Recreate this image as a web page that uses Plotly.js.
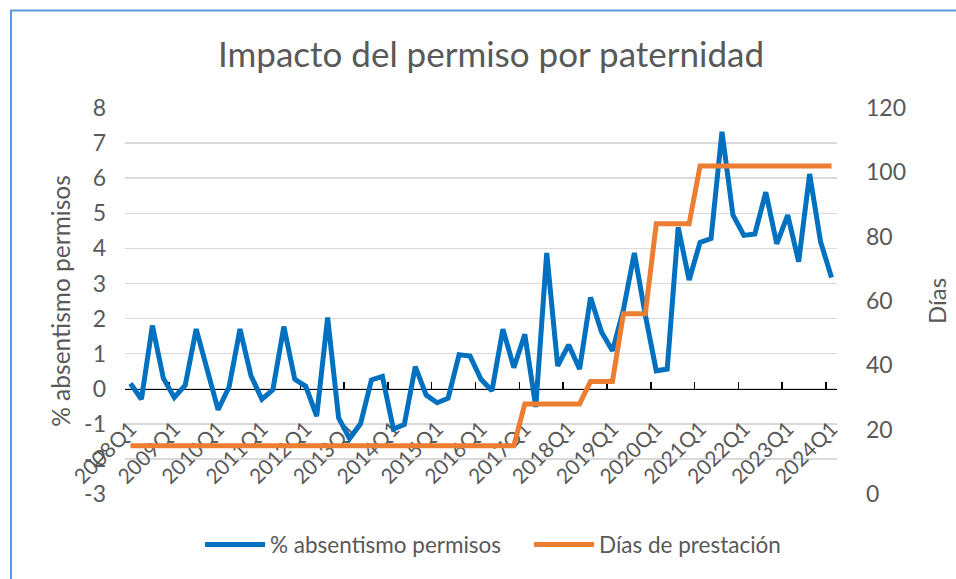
<!DOCTYPE html>
<html>
<head>
<meta charset="utf-8">
<script src="https://cdn.plot.ly/plotly-3.0.1.min.js"></script>
<style>
html,body{margin:0;padding:0;background:#ffffff;}
#chart{width:956px;height:579px;}
</style>
</head>
<body>
<div id="chart"></div>
<script>
// ---- data ----
const quarters = [
  "2008Q1","2008Q2","2008Q3","2008Q4",
  "2009Q1","2009Q2","2009Q3","2009Q4",
  "2010Q1","2010Q2","2010Q3","2010Q4",
  "2011Q1","2011Q2","2011Q3","2011Q4",
  "2012Q1","2012Q2","2012Q3","2012Q4",
  "2013Q1","2013Q2","2013Q3","2013Q4",
  "2014Q1","2014Q2","2014Q3","2014Q4",
  "2015Q1","2015Q2","2015Q3","2015Q4",
  "2016Q1","2016Q2","2016Q3","2016Q4",
  "2017Q1","2017Q2","2017Q3","2017Q4",
  "2018Q1","2018Q2","2018Q3","2018Q4",
  "2019Q1","2019Q2","2019Q3","2019Q4",
  "2020Q1","2020Q2","2020Q3","2020Q4",
  "2021Q1","2021Q2","2021Q3","2021Q4",
  "2022Q1","2022Q2","2022Q3","2022Q4",
  "2023Q1","2023Q2","2023Q3","2023Q4",
  "2024Q1"
];

const absentismo = [
  0.15, -0.30, 1.80, 0.30,
  -0.25, 0.10, 1.70, 0.55,
  -0.60, 0.05, 1.70, 0.37,
  -0.30, -0.03, 1.77, 0.27,
  0.07, -0.78, 2.03, -0.83,
  -1.42, -1.00, 0.25, 0.35,
  -1.15, -1.02, 0.63, -0.18,
  -0.40, -0.27, 0.97, 0.93,
  0.27, -0.06, 1.70, 0.60,
  1.55, -0.52, 3.87, 0.65,
  1.25, 0.56, 2.60, 1.62,
  1.08, 2.25, 3.87, 2.10,
  0.51, 0.56, 4.60, 3.10,
  4.17, 4.28, 7.32, 4.95,
  4.37, 4.41, 5.60, 4.13,
  4.95, 3.62, 6.12, 4.19,
  3.17
];

const diasPrestacion = [
  15, 15, 15, 15,
  15, 15, 15, 15,
  15, 15, 15, 15,
  15, 15, 15, 15,
  15, 15, 15, 15,
  15, 15, 15, 15,
  15, 15, 15, 15,
  15, 15, 15, 15,
  15, 15, 15, 15,
  28, 28, 28, 28,
  28, 28, 35, 35,
  35, 56, 56, 56,
  84, 84, 84, 84,
  102, 102, 102, 102,
  102, 102, 102, 102,
  102, 102, 102, 102,
  102
];

const leftTickValues = [-3, -2, -1, 0, 1, 2, 3, 4, 5, 6, 7, 8];
const leftTickLabels = ["-3", "-2", "-1", "0", "1", "2", "3", "4", "5", "6", "7", "8"];

const seriesNames = ["% absentismo permisos", "Días de prestación"];
const chartTitle = "Impacto del permiso por paternidad";
const leftAxisTitle = "% absentismo permisos";
const rightAxisTitle = "Días";

// ---- styling ----
const FONT = 'Lato, "Open Sans", "Liberation Sans", sans-serif';
const GREY = '#595959';
const BLUE = '#0070C0';
const ORANGE = '#ED7D31';

const traces = [
  {
    type: 'scatter', mode: 'lines',
    x: quarters, y: absentismo,
    name: seriesNames[0],
    xaxis: 'x', yaxis: 'y',
    line: {color: BLUE, width: 5}
  },
  {
    type: 'scatter', mode: 'lines',
    x: quarters, y: diasPrestacion,
    name: seriesNames[1],
    xaxis: 'x', yaxis: 'y2',
    line: {color: ORANGE, width: 5}
  }
];

const layout = {
  width: 956, height: 579,
  margin: {l: 125, r: 119, t: 108, b: 83},
  paper_bgcolor: '#ffffff',
  plot_bgcolor: '#ffffff',
  font: {family: FONT, color: GREY},
  showlegend: true,
  title: {
    text: chartTitle,
    font: {family: FONT, size: 35, color: GREY},
    xref: 'container', yref: 'container',
    x: 0.5136, xanchor: 'center',
    y: 0.905, yanchor: 'middle'
  },
  xaxis: {
    type: 'category',
    range: [-0.5, 64.5],
    tickmode: 'linear', tick0: 0, dtick: 4,
    tickson: 'boundaries',
    ticks: 'inside', ticklen: 7, tickwidth: 1.5, tickcolor: '#000000',
    showline: true, linecolor: '#000000', linewidth: 1.5,
    showgrid: false, zeroline: false,
    anchor: 'free', position: 3 / 11,
    tickangle: -45,
    tickfont: {family: FONT, size: 21, color: GREY},
    ticklabelstandoff: 18,
    layer: 'below traces',
    fixedrange: true
  },
  yaxis: {
    range: [-3, 8],
    tickmode: 'array', tickvals: leftTickValues, ticktext: leftTickLabels,
    showgrid: true, gridcolor: '#D9D9D9', gridwidth: 1.5,
    zeroline: false, showline: false, ticks: '',
    tickfont: {family: FONT, size: 23, color: GREY},
    ticklabelstandoff: 18,
    title: {text: leftAxisTitle, font: {family: FONT, size: 24.5, color: GREY}, standoff: 6},
    fixedrange: true
  },
  yaxis2: {
    overlaying: 'y', side: 'right', anchor: 'x',
    range: [0, 120],
    tickmode: 'linear', tick0: 0, dtick: 20,
    showgrid: false, zeroline: false, showline: false, ticks: '',
    tickfont: {family: FONT, size: 23, color: GREY},
    ticklabelstandoff: 28,
    title: {text: rightAxisTitle, font: {family: FONT, size: 24, color: GREY}, standoff: 24},
    fixedrange: true
  },
  legend: {
    orientation: 'h',
    x: 0.1054, xanchor: 'left',
    y: -0.132, yanchor: 'middle',
    font: {family: FONT, size: 22.5, color: GREY},
    itemwidth: 60,
    entrywidth: 254, entrywidthmode: 'pixels',
    bgcolor: 'rgba(0,0,0,0)'
  },
  shapes: [
    {
      type: 'rect', xref: 'paper', yref: 'paper',
      x0: -0.1601, x1: 1.6, y0: -1.0, y1: 1.2526,
      line: {color: '#5B9BD5', width: 2},
      fillcolor: 'rgba(0,0,0,0)',
      layer: 'below'
    }
  ]
};

Plotly.newPlot('chart', traces, layout, {displayModeBar: false, staticPlot: true});
</script>
</body>
</html>
